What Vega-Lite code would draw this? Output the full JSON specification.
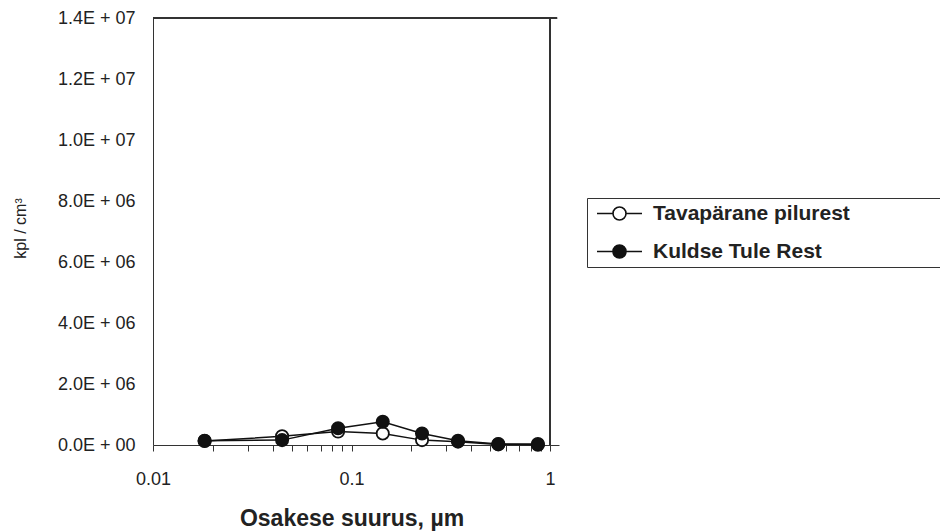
{
  "$schema": "https://vega.github.io/schema/vega-lite/v6.json",
  "width": 406,
  "height": 427,
  "autosize": {"type": "none"},
  "padding": {"left": 153, "top": 18, "right": 381, "bottom": 87},
  "background": "white",
  "config": {"view": {"stroke": null}, "font": "Liberation Sans"},
  "data": {"values": [
    {"size": 0.0182, "value": 130000, "series": "Tavapärane pilurest"},
    {"size": 0.0447, "value": 285000, "series": "Tavapärane pilurest"},
    {"size": 0.0856, "value": 440000, "series": "Tavapärane pilurest"},
    {"size": 0.1437, "value": 380000, "series": "Tavapärane pilurest"},
    {"size": 0.2266, "value": 160000, "series": "Tavapärane pilurest"},
    {"size": 0.344, "value": 110000, "series": "Tavapärane pilurest"},
    {"size": 0.549, "value": 20000, "series": "Tavapärane pilurest"},
    {"size": 0.869, "value": 10000, "series": "Tavapärane pilurest"},
    {"size": 0.0182, "value": 140000, "series": "Kuldse Tule Rest"},
    {"size": 0.0447, "value": 160000, "series": "Kuldse Tule Rest"},
    {"size": 0.0856, "value": 550000, "series": "Kuldse Tule Rest"},
    {"size": 0.1437, "value": 760000, "series": "Kuldse Tule Rest"},
    {"size": 0.2266, "value": 380000, "series": "Kuldse Tule Rest"},
    {"size": 0.344, "value": 140000, "series": "Kuldse Tule Rest"},
    {"size": 0.549, "value": 30000, "series": "Kuldse Tule Rest"},
    {"size": 0.869, "value": 30000, "series": "Kuldse Tule Rest"}
  ]},
  "layer": [
    {
      "mark": {"type": "line", "color": "#111", "strokeWidth": 1.5},
      "encoding": {
        "x": {
          "field": "size", "type": "quantitative",
          "scale": {"type": "log", "domain": [0.01, 1.11], "nice": false},
          "axis": {
            "values": [0.01, 0.02, 0.03, 0.04, 0.05, 0.06, 0.07, 0.08, 0.09, 0.1, 0.2, 0.3, 0.4, 0.5, 0.6, 0.7, 0.8, 0.9, 1],
            "labelExpr": "datum.value === 0.01 ? '0.01' : datum.value === 0.1 ? '0.1' : datum.value === 1 ? '1' : ''",
            "labelOverlap": false, "labelBound": false, "labelFlush": false,
            "grid": false, "domainColor": "#333", "tickColor": "#333", "tickSize": 6,
            "labelFontSize": 18, "labelColor": "#222", "labelPadding": 19,
            "title": "Osakese suurus, µm", "titleFontSize": 23, "titleFontWeight": "bold", "titleColor": "#222",
            "titleX": 198.5, "titleY": 80, "titleAlign": "center", "titleBaseline": "alphabetic"
          }
        },
        "y": {
          "field": "value", "type": "quantitative",
          "scale": {"domain": [0, 14000000], "nice": false, "zero": true},
          "axis": {
            "values": [0, 2000000, 4000000, 6000000, 8000000, 10000000, 12000000, 14000000],
            "labelExpr": "datum.value == 0 ? '0.0E + 00' : datum.value < 10000000 ? format(datum.value / 1000000, '.1f') + 'E + 06' : format(datum.value / 10000000, '.1f') + 'E + 07'",
            "ticks": false, "grid": false, "domainColor": "#333",
            "labelFontSize": 18, "labelColor": "#222", "labelPadding": 18, "labelOverlap": false,
            "title": "kpl / cm³", "titleFontSize": 16, "titleFontWeight": "normal", "titleColor": "#222",
            "titleX": -133, "titleY": 210, "titleAngle": 270, "titleAlign": "center", "titleBaseline": "middle"
          }
        },
        "detail": {"field": "series"}
      }
    },
    {
      "mark": {"type": "point", "shape": "circle", "filled": true, "size": 150, "stroke": "#111", "strokeWidth": 1.8, "opacity": 1},
      "encoding": {
        "x": {"field": "size", "type": "quantitative", "scale": {"type": "log", "domain": [0.01, 1.11], "nice": false}},
        "y": {"field": "value", "type": "quantitative", "scale": {"domain": [0, 14000000], "nice": false, "zero": true}},
        "fill": {
          "field": "series", "type": "nominal",
          "scale": {"domain": ["Tavapärane pilurest", "Kuldse Tule Rest"], "range": ["white", "#111"]},
          "legend": {
            "orient": "none", "legendX": 434, "legendY": 180,
            "title": " ", "titleOrient": "right", "titleFontSize": 8, "titlePadding": 120,
            "strokeColor": "#333", "fillColor": "white", "padding": 5,
            "symbolType": "M-3.46,0H-1M1,0H3.46M-1,0A1,1 0 1,1 1,0A1,1 0 1,1 -1,0Z",
            "symbolSize": 169, "symbolStrokeColor": "#111", "symbolStrokeWidth": 1.6,
            "symbolOffset": 17, "labelOffset": 23,
            "labelFontSize": 21, "labelFontWeight": "bold", "labelColor": "#222", "labelLimit": 400,
            "rowPadding": 16
          }
        }
      }
    },
    {
      "mark": {"type": "rule", "color": "#333", "strokeWidth": 1},
      "encoding": {
        "x": {"datum": 0.01, "type": "quantitative", "scale": {"type": "log", "domain": [0.01, 1.11], "nice": false}},
        "x2": {"datum": 1.085},
        "y": {"datum": 14000000, "type": "quantitative", "scale": {"domain": [0, 14000000], "nice": false, "zero": true}}
      }
    },
    {
      "mark": {"type": "rule", "color": "#333", "strokeWidth": 1},
      "encoding": {
        "x": {"datum": 1, "type": "quantitative", "scale": {"type": "log", "domain": [0.01, 1.11], "nice": false}},
        "y": {"datum": 0, "type": "quantitative", "scale": {"domain": [0, 14000000], "nice": false, "zero": true}},
        "y2": {"datum": 14000000}
      }
    }
  ]
}
